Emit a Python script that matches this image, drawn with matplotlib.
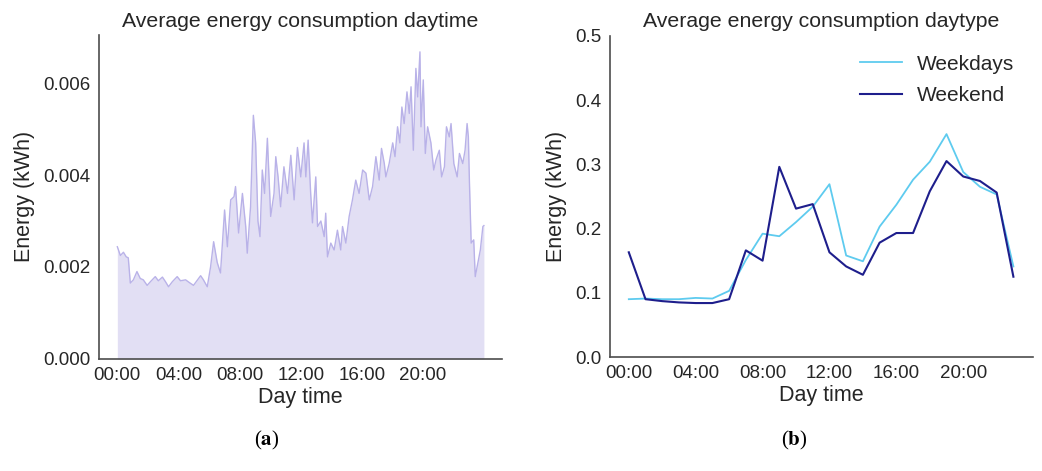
import matplotlib.pyplot as plt
import numpy as np

plt.rcParams['font.family'] = ['Liberation Sans', 'DejaVu Sans']
plt.rcParams['mathtext.fontset'] = 'stix'

# Minute-of-day profile (average over all days)
minutes = [0, 12, 24, 35, 43, 51, 63, 77, 90, 102, 117, 130, 149, 161, 177, 189,
           201, 216, 235, 248, 268, 283, 299, 315, 327, 338, 353, 366, 378, 392,
           405, 421, 432, 445, 458, 464, 476, 491, 504, 510, 523, 534, 543, 552,
           560, 569, 578, 589, 602, 615, 622, 631, 641, 654, 668, 681, 694, 707,
           720, 733, 740, 749, 759, 766, 779, 786, 799, 812, 818, 825, 838, 851,
           864, 877, 884, 897, 910, 923, 936, 949, 963, 976, 989, 1002, 1015,
           1028, 1037, 1048, 1054, 1067, 1081, 1090, 1100, 1109, 1117, 1126,
           1137, 1146, 1153, 1162, 1172, 1179, 1188, 1192, 1201, 1209, 1218,
           1231, 1242, 1251, 1264, 1273, 1284, 1292, 1303, 1310, 1321, 1334,
           1343, 1356, 1365, 1373, 1378, 1382, 1389, 1399, 1405, 1415, 1425,
           1435, 1439]
energy_min = [0.00244, 0.00225, 0.00232, 0.00222, 0.00220, 0.00165, 0.00172,
              0.00190, 0.00175, 0.00172, 0.00160, 0.00168, 0.00179, 0.00170,
              0.00178, 0.00168, 0.00157, 0.00168, 0.00179, 0.00170, 0.00172,
              0.00166, 0.00160, 0.00172, 0.00181, 0.00172, 0.00157, 0.00200,
              0.00255, 0.00210, 0.00187, 0.00324, 0.00244, 0.00346, 0.00353,
              0.00375, 0.00274, 0.00360, 0.00288, 0.00230, 0.00331, 0.00530,
              0.00470, 0.00300, 0.00266, 0.00411, 0.00360, 0.00480, 0.00310,
              0.00360, 0.00440, 0.00396, 0.00331, 0.00418, 0.00360, 0.00443,
              0.00346, 0.00460, 0.00396, 0.00470, 0.00396, 0.00476, 0.00360,
              0.00296, 0.00396, 0.00288, 0.00300, 0.00266, 0.00317, 0.00222,
              0.00252, 0.00237, 0.00280, 0.00237, 0.00288, 0.00252, 0.00310,
              0.00346, 0.00389, 0.00360, 0.00411, 0.00404, 0.00346, 0.00375,
              0.00440, 0.00389, 0.00458, 0.00425, 0.00396, 0.00425, 0.00470,
              0.00440, 0.00505, 0.00470, 0.00548, 0.00512, 0.00581, 0.00534,
              0.00592, 0.00454, 0.00632, 0.00570, 0.00668, 0.00505, 0.00607,
              0.00447, 0.00505, 0.00470, 0.00411, 0.00433, 0.00454, 0.00396,
              0.00418, 0.00505, 0.00483, 0.00512, 0.00425, 0.00396, 0.00447,
              0.00425, 0.00454, 0.00512, 0.00483, 0.00389, 0.00252, 0.00259,
              0.00179, 0.00208, 0.00237, 0.00288, 0.00290]

# Hourly profile by day type
hours = list(range(24))
weekdays = [0.090, 0.091, 0.090, 0.090, 0.092, 0.091, 0.103, 0.151, 0.192,
            0.188, 0.210, 0.234, 0.269, 0.158, 0.149, 0.203, 0.237, 0.276,
            0.304, 0.347, 0.288, 0.265, 0.253, 0.141]
weekend = [0.163, 0.090, 0.087, 0.085, 0.084, 0.084, 0.090, 0.166, 0.150,
           0.296, 0.231, 0.238, 0.163, 0.141, 0.128, 0.178, 0.193, 0.193,
           0.258, 0.305, 0.281, 0.274, 0.256, 0.125]

tick_pos = [0, 240, 480, 720, 960, 1200]
tick_lbl = ['00:00', '04:00', '08:00', '12:00', '16:00', '20:00']

fig = plt.figure(figsize=(10.42, 4.71), dpi=100)
ax1 = fig.add_axes([0.095, 0.238, 0.387, 0.688])
ax2 = fig.add_axes([0.585, 0.242, 0.406, 0.682])

text_col = '#262626'
for ax in (ax1, ax2):
    for s in ('top', 'right'):
        ax.spines[s].set_visible(False)
    for s in ('left', 'bottom'):
        ax.spines[s].set_color('#4d4d4d')
        ax.spines[s].set_linewidth(1.2)
    ax.tick_params(length=0, labelsize=13.5, colors=text_col, pad=6)
    ax.set_xlabel('Day time', fontsize=15.5, color=text_col, labelpad=2)
    ax.set_ylabel('Energy (kWh)', fontsize=15.5, color=text_col, labelpad=6)

# (a) per-minute average
ax1.fill_between(minutes, energy_min, 0, color='#E2DFF4', lw=0)
ax1.plot(minutes, energy_min, color='#B9B2E8', lw=1.0)
ax1.set_xlim(-72, 1511)
ax1.set_ylim(0, 0.00705)
ax1.set_yticks([0, 0.002, 0.004, 0.006])
ax1.set_yticklabels(['0.000', '0.002', '0.004', '0.006'])
ax1.set_xticks(tick_pos)
ax1.set_xticklabels(tick_lbl)
ax1.set_title('Average energy consumption daytime', fontsize=15.3,
              color=text_col, pad=6)

# (b) weekdays vs weekend
ax2.plot(hours, weekdays, color='#5ECBEF', lw=1.3, label='Weekdays')
ax2.plot(hours, weekend, color='#1E1E8C', lw=1.5, label='Weekend')
ax2.set_xlim(-1.15, 24.15)
ax2.set_ylim(0, 0.5)
ax2.set_yticks([0, 0.1, 0.2, 0.3, 0.4, 0.5])
ax2.set_yticklabels(['0.0', '0.1', '0.2', '0.3', '0.4', '0.5'])
ax2.set_xticks([0, 4, 8, 12, 16, 20])
ax2.set_xticklabels(tick_lbl)
ax2.set_title('Average energy consumption daytype', fontsize=15.3,
              color=text_col, pad=6)
ax2.legend(loc='upper right', frameon=False, fontsize=15,
           handlelength=2.0, handletextpad=0.7, labelspacing=0.6,
           bbox_to_anchor=(1.0, 1.0), labelcolor=text_col)

fig.text(0.2555, 0.065, r'($\mathbf{a}$)', family='Liberation Serif',
         fontsize=15, ha='center', va='center', color='black')
fig.text(0.7625, 0.065, r'($\mathbf{b}$)', family='Liberation Serif',
         fontsize=15, ha='center', va='center', color='black')

fig.savefig('out.png', dpi=100)
